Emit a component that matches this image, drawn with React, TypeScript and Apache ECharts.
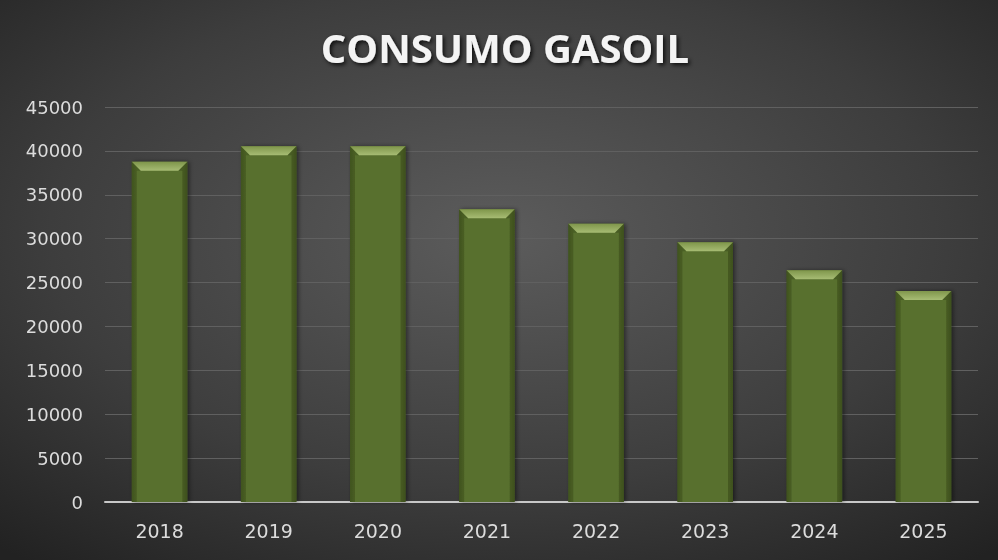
import React, { useEffect, useRef } from "react";
import * as echarts from "echarts";

const categories = ["2018", "2019", "2020", "2021", "2022", "2023", "2024", "2025"];
const values = [38750, 40530, 40530, 33350, 31700, 29580, 26400, 24050];
const yTicks = { min: 0, max: 45000, interval: 5000 };
const titleText = "CONSUMO GASOIL";

export default function App() {
  const ref = useRef<HTMLDivElement>(null);
  useEffect(() => {
    if (!ref.current) return;
    const chart = echarts.init(ref.current, null, { renderer: "svg" });
    const option: any = {
      animation: false,
      backgroundColor: {
        type: "radial",
        x: 0.5,
        y: 0.42,
        r: 0.75,
        colorStops: [
          { offset: 0, color: "#5c5c5c" },
          { offset: 0.6, color: "#3d3d3d" },
          { offset: 1, color: "#222222" },
        ],
      },
      title: {
        text: titleText,
        left: 500,
        textAlign: "center",
        top: 22,
        textStyle: {
          color: "#f4f4f4",
          fontFamily: "Open Sans",
          fontWeight: "bold",
          fontSize: 40,
          textShadowColor: "rgba(0,0,0,0.8)",
          textShadowBlur: 4,
          textShadowOffsetX: 2,
          textShadowOffsetY: 2,
        },
      },
      grid: { left: 105, right: 20, top: 107, bottom: 58, containLabel: false },
      xAxis: {
        type: "category",
        data: categories,
        axisLine: { lineStyle: { color: "#c8c8c8", width: 2 } },
        axisTick: { show: false },
        axisLabel: {
          color: "#dcdcdc",
          fontSize: 19,
          fontFamily: "DejaVu Sans",
          margin: 19,
        },
      },
      yAxis: {
        type: "value",
        min: yTicks.min,
        max: yTicks.max,
        interval: yTicks.interval,
        axisLine: { show: false },
        axisTick: { show: false },
        splitLine: { lineStyle: { color: "#606060", width: 1 } },
        axisLabel: {
          color: "#dcdcdc",
          fontSize: 18,
          fontFamily: "DejaVu Sans",
          margin: 22,
          formatter: (v: number) => String(v),
        },
      },
      series: [
        {
          type: "custom",
          data: values.map((v, i) => [i, v]),
          encode: { x: 0, y: 1 },
          renderItem: (params: any, api: any) => {
            const idx = api.value(0);
            const val = api.value(1);
            const top = api.coord([idx, val]);
            const bot = api.coord([idx, 0]);
            const w = api.size([1, 0])[0] * 0.51;
            const x0 = top[0] - w / 2;
            const x1 = top[0] + w / 2;
            const y0 = top[1];
            const y1 = bot[1];
            const b = 9;
            const s = 5;
            return {
              type: "group",
              children: [
                {
                  type: "rect",
                  shape: { x: x0, y: y0, width: w, height: y1 - y0 },
                  style: {
                    fill: {
                      type: "linear",
                      x: 0, y: 0, x2: 1, y2: 0,
                      colorStops: [
                        { offset: 0, color: "#4a5e24" },
                        { offset: 0.1, color: "#586f2e" },
                        { offset: 0.9, color: "#586f2e" },
                        { offset: 1, color: "#4a5e24" },
                      ],
                    },
                    shadowColor: "rgba(0,0,0,0.45)",
                    shadowBlur: 4,
                    shadowOffsetX: 2,
                  },
                },
                {
                  type: "polygon",
                  shape: {
                    points: [
                      [x0, y0],
                      [x1, y0],
                      [x1 - b, y0 + b],
                      [x0 + b, y0 + b],
                    ],
                  },
                  style: {
                    fill: {
                      type: "linear",
                      x: 0, y: 0, x2: 0, y2: 1,
                      colorStops: [
                        { offset: 0, color: "#7f964b" },
                        { offset: 1, color: "#a7bc74" },
                      ],
                    },
                  },
                },
                {
                  type: "polygon",
                  shape: {
                    points: [
                      [x0, y0],
                      [x0 + b, y0 + b],
                      [x0 + s, y0 + b],
                      [x0 + s, y1],
                      [x0, y1],
                    ],
                  },
                  style: { fill: "rgba(35,50,12,0.25)" },
                },
                {
                  type: "polygon",
                  shape: {
                    points: [
                      [x1, y0],
                      [x1 - b, y0 + b],
                      [x1 - s, y0 + b],
                      [x1 - s, y1],
                      [x1, y1],
                    ],
                  },
                  style: { fill: "rgba(35,50,12,0.3)" },
                },
              ],
            };
          },
        },
      ],
    };
    chart.setOption(option);
    return () => chart.dispose();
  }, []);
  return (
    <div
      ref={ref}
      style={{ position: "fixed", left: 0, top: 0, width: 998, height: 560 }}
    />
  );
}
